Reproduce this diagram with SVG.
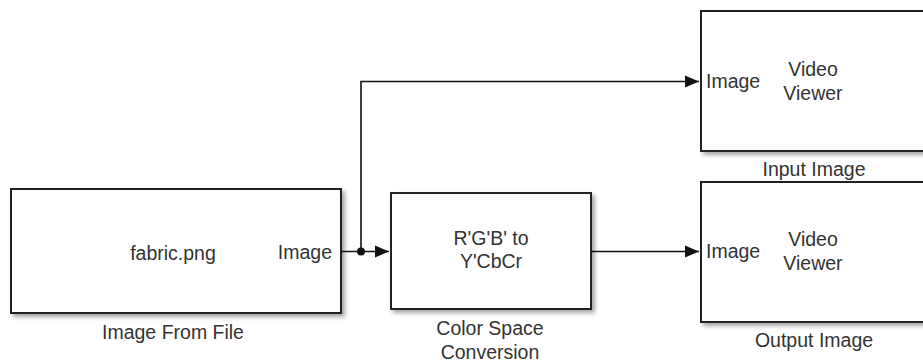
<svg xmlns="http://www.w3.org/2000/svg" width="923" height="362" viewBox="0 0 923 362">
<style>
.blk{fill:#fff;stroke:#222;stroke-width:2;filter:url(#sh)}
.t{font-family:"Liberation Sans",Arial,sans-serif;font-size:19.5px;fill:#333}
.m{text-anchor:middle}
.e{text-anchor:end}
.c{fill:none;stroke:#111;stroke-width:1.6}
</style>
<defs>
<filter id="sh" x="-10%" y="-10%" width="130%" height="130%">
<feDropShadow dx="3" dy="3" stdDeviation="2" flood-color="#000" flood-opacity="0.35"/>
</filter>
<marker id="ah" markerUnits="userSpaceOnUse" markerWidth="16" markerHeight="14" refX="15" refY="6.5" orient="auto">
<path d="M1,0.5 L15,6.5 L1,12.5 z" fill="#111"/>
</marker>
</defs>
<g id="image-from-file">
<rect class="blk" x="11" y="189" width="330" height="124"/>
<text class="t m" x="173" y="260">fabric.png</text>
<text class="t e" x="332" y="259">Image</text>
<text class="t m" x="173" y="339">Image From File</text>
</g>
<g id="color-space-conversion">
<rect class="blk" x="391" y="193" width="200" height="116"/>
<text class="t m" x="491" y="245">R'G'B' to</text>
<text class="t m" x="491" y="268">Y'CbCr</text>
<text class="t m" x="490" y="335">Color Space</text>
<text class="t m" x="490" y="359">Conversion</text>
</g>
<g id="input-image">
<rect class="blk" x="701" y="11" width="232" height="140"/>
<text class="t" x="706" y="88">Image</text>
<text class="t m" x="813" y="76">Video</text>
<text class="t m" x="813" y="100">Viewer</text>
<text class="t m" x="814" y="176">Input Image</text>
</g>
<g id="output-image">
<rect class="blk" x="701" y="182" width="232" height="140"/>
<text class="t" x="706" y="258">Image</text>
<text class="t m" x="813" y="246">Video</text>
<text class="t m" x="813" y="270">Viewer</text>
<text class="t m" x="814" y="347">Output Image</text>
</g>
<g id="connectors">
<line class="c" x1="341" y1="251.5" x2="389" y2="251.5" marker-end="url(#ah)"/>
<polyline class="c" points="361,251.5 361,81.5 699,81.5" marker-end="url(#ah)"/>
<line class="c" x1="591" y1="251.5" x2="699" y2="251.5" marker-end="url(#ah)"/>
<circle cx="361" cy="251.5" r="4" fill="#111"/>
</g>
</svg>
